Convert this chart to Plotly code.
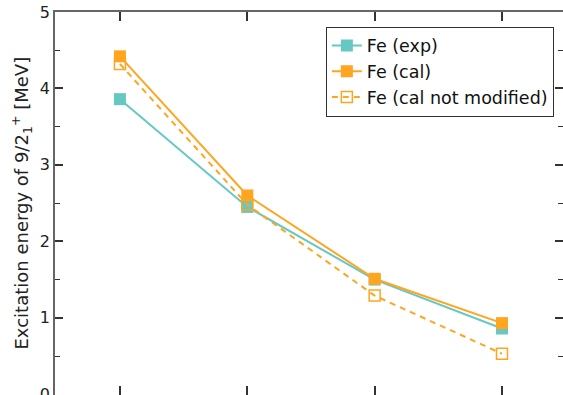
import plotly.graph_objects as go

# Data
x_pos = [1, 2, 3, 4]
fe_exp = [3.86, 2.45, 1.50, 0.86]
fe_cal = [4.42, 2.60, 1.51, 0.93]
fe_cal_not_mod = [4.32, 2.48, 1.29, 0.53]
y_ticks = [0, 1, 2, 3, 4, 5]

TEAL = "#66C8C3"
ORANGE = "#FFA520"
FONT = "DejaVu Sans, Liberation Sans, sans-serif"

fig = go.Figure()

fig.add_trace(go.Scatter(
    x=x_pos, y=fe_exp, mode="lines+markers", name="Fe (exp)",
    line=dict(color=TEAL, width=2),
    marker=dict(symbol="square", size=12, color=TEAL),
    legendrank=1,
))
fig.add_trace(go.Scatter(
    x=x_pos, y=fe_cal_not_mod, mode="lines+markers", name="Fe (cal not modified)",
    line=dict(color=ORANGE, width=2, dash="6px,5px"),
    marker=dict(symbol="square-open", size=11, color=ORANGE, line=dict(width=1.5, color=ORANGE)),
    legendrank=3,
))
fig.add_trace(go.Scatter(
    x=x_pos, y=fe_cal, mode="lines+markers", name="Fe (cal)",
    line=dict(color=ORANGE, width=2),
    marker=dict(symbol="square", size=12, color=ORANGE),
    legendrank=2,
))
# dummy trace for right-hand tick marks
fig.add_trace(go.Scatter(x=[None], y=[None], yaxis="y2", showlegend=False, hoverinfo="skip"))

fig.update_layout(
    width=563, height=395,
    margin=dict(l=55, r=0, t=12, b=0, autoexpand=False),
    paper_bgcolor="white", plot_bgcolor="white",
    font=dict(family=FONT, color="#222"),
    showlegend=True,
    legend=dict(
        x=0.982, xanchor="right", y=0.962, yanchor="top",
        bordercolor="#333", borderwidth=1, bgcolor="white",
        font=dict(size=17.5, family=FONT, color="#111"),
        tracegroupgap=0, itemwidth=30,
    ),
    xaxis=dict(
        range=[0.49, 4.479], tickvals=x_pos, showticklabels=False,
        ticks="inside", ticklen=9, tickwidth=1.5, tickcolor="#333",
        showline=True, linecolor="#666", linewidth=1.5, mirror="ticks",
        showgrid=False, zeroline=False, automargin=False,
    ),
    yaxis=dict(
        range=[-0.01, 5], tickvals=y_ticks,
        ticks="inside", ticklen=8, tickwidth=1.5, tickcolor="#333",
        minor=dict(dtick=0.5, ticks="inside", ticklen=5, tickwidth=1.2, tickcolor="#333"),
        showline=True, linecolor="#666", linewidth=1.5, mirror=False,
        showgrid=False, zeroline=False, ticklabeloverflow="allow", automargin=False,
        tickfont=dict(size=16, family=FONT, color="#222"),
    ),
    yaxis2=dict(
        overlaying="y", side="right", matches="y", tickvals=y_ticks,
        ticks="inside", ticklen=8, tickwidth=1.5, tickcolor="#333",
        minor=dict(dtick=0.5, ticks="inside", ticklen=5, tickwidth=1.2, tickcolor="#333"),
        showline=False, showticklabels=False, showgrid=False, zeroline=False,
        automargin=False,
    ),
    annotations=[dict(
        text="Excitation energy of 9/2<sub>1</sub><sup>+</sup> [MeV]",
        xref="paper", yref="paper", x=(21 - 55) / 508, y=0.5,
        xanchor="center", yanchor="middle", textangle=-90, showarrow=False,
        font=dict(size=18, family=FONT, color="#222"),
    )],
)

fig.write_html("out.html")
